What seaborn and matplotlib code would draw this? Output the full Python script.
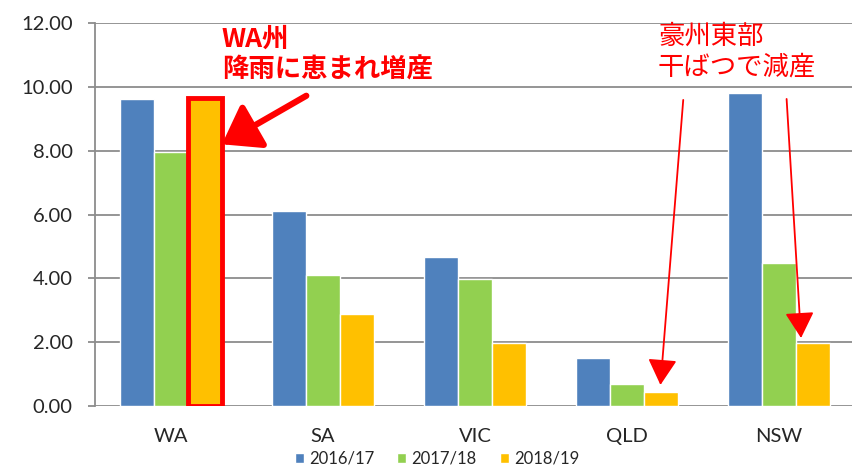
import numpy as np
import pandas as pd
import seaborn as sns
import matplotlib.pyplot as plt

# data
regions = ['WA', 'SA', 'VIC', 'QLD', 'NSW']
seasons = ['2016/17', '2017/18', '2018/19']
y2016 = [9.63, 6.12, 4.66, 1.51, 9.80]
y2017 = [7.97, 4.09, 3.98, 0.69, 4.48]
y2018 = [9.66, 2.87, 1.96, 0.44, 1.97]
colors = ['#4F81BD', '#92D050', '#FFC000']
yticks = [0, 2, 4, 6, 8, 10, 12]

df = pd.DataFrame({
    'region': regions * 3,
    'season': np.repeat(seasons, len(regions)),
    'value': y2016 + y2017 + y2018,
})

sns.set_style('white')
plt.rcParams['font.family'] = ['Lato', 'Noto Sans CJK JP', 'DejaVu Sans']
grid_c = '#8C8C8C'

fig = plt.figure(figsize=(8.52, 4.67), dpi=100)
ax = fig.add_axes([95 / 852, 1 - 406 / 467, 760 / 852, 383 / 467])

sns.barplot(data=df, x='region', y='value', hue='season', palette=colors,
            width=0.67, gap=0, saturation=1, errorbar=None, ax=ax)

ax.set_xlim(-0.5, 4.5)
ax.set_ylim(0, 12)
ax.set_yticks(yticks)
ax.set_yticklabels([f'{v:.2f}' for v in yticks])
ax.set_xlabel('')
ax.set_ylabel('')
ax.yaxis.grid(True, color=grid_c, lw=1.3)
ax.set_axisbelow(True)
for s in ['top', 'right', 'bottom']:
    ax.spines[s].set_visible(False)
ax.spines['left'].set_color(grid_c)
ax.spines['left'].set_linewidth(1.3)
ax.set_xticks(np.arange(-0.5, 5, 1), minor=True)
ax.tick_params(axis='x', which='major', length=0, pad=16, labelsize=14.5)
ax.tick_params(axis='x', which='minor', length=5, width=1.3, color=grid_c)
ax.tick_params(axis='y', length=5, width=1.3, color=grid_c, pad=11, labelsize=14.5, left=True)

# highlight WA 2018/19 bar
wa_bar = ax.containers[2][0]
wa_bar.set_edgecolor('#FF0000')
wa_bar.set_linewidth(3.5)
wa_right = wa_bar.get_x() + wa_bar.get_width()

# legend at the bottom
handles, labels = ax.get_legend_handles_labels()
ax.legend_.remove()
fig.legend(handles, labels, loc='center', bbox_to_anchor=(437 / 852, 1 - 459 / 467),
           ncol=3, frameon=False, fontsize=12, handlelength=0.55, handleheight=0.55,
           handletextpad=0.3, columnspacing=1.4)

# annotations
jp = ['Noto Sans CJK JP', 'DejaVu Sans']
fig.text(222 / 852, 1 - 26 / 467, 'WA州\n降雨に恵まれ増産', color='#FF0000',
         fontsize=19, fontweight='bold', family=jp, va='top', ha='left', linespacing=1.15)
fig.text(658 / 852, 1 - 23 / 467, '豪州東部\n干ばつで減産', color='#FF0000',
         fontsize=19, family=jp, va='top', ha='left', linespacing=1.15)

ax.annotate('', xy=(wa_right, 8.2), xytext=(0.89, 9.72),
            arrowprops=dict(arrowstyle='-|>,head_length=1.0,head_width=0.7',
                            color='#FF0000', lw=4.5, mutation_scale=22, shrinkA=0, shrinkB=0))
thin = dict(arrowstyle='-|>,head_length=0.8,head_width=0.45', color='#FF0000', lw=1.3,
            mutation_scale=20, shrinkA=0, shrinkB=0)
ax.annotate('', xy=(3.22, y2018[3] + 0.22), xytext=(3.37, 9.59), arrowprops=thin)
ax.annotate('', xy=(4.145, y2018[4] + 0.16), xytext=(4.05, 9.62), arrowprops=thin)

plt.savefig('out.png', dpi=100)
